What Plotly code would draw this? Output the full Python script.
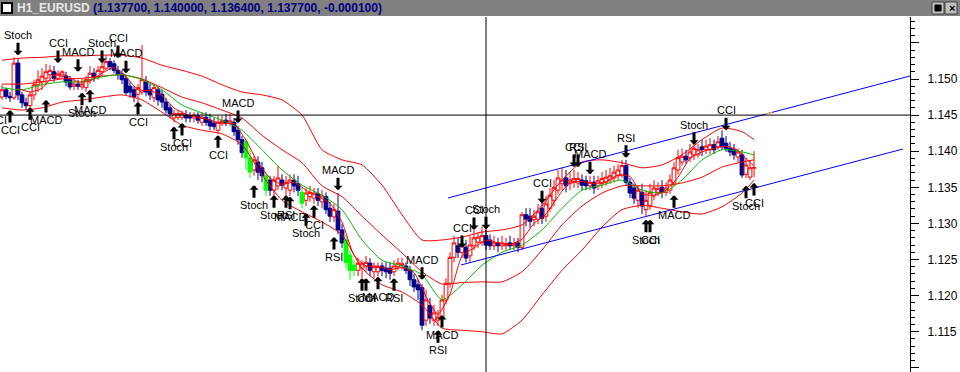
import plotly.graph_objects as go

# ---------------- data (prices in pips, 1 pip = 0.0001) ----------------
opens = [11475,11485,11476,11474,11522,11478,11467,11463,11478,11492,11496,11501,11506,11510,11501,11504,11504,11499,11490,11493,
         11489,11488,11499,11508,11503,11510,11515,11524,11521,11512,11507,11501,11490,11485,11479,11482,11496,11485,11474,11485,
         11479,11468,11460,11446,11447,11447,11450,11449,11446,11449,11440,11447,11443,11439,11429,11440,11443,11439,11440,11429,
         11416,11413,11391,11374,11385,11377,11366,11360,11346,11352,11360,11349,11346,11360,11355,11343,11332,11337,11335,11341,
         11330,11337,11321,11309,11317,11291,11277,11256,11242,11235,11238,11241,11245,11233,11233,11241,11238,11238,11233,11240,
         11242,11241,11235,11222,11215,11211,11166,11186,11166,11166,11169,11194,11217,11253,11269,11260,11267,11255,11269,11274,
         11274,11283,11277,11269,11273,11269,11269,11273,11269,11273,11267,11312,11310,11305,11306,11321,11310,11321,11332,11346,
         11355,11363,11355,11357,11356,11360,11359,11352,11357,11352,11355,11357,11360,11363,11366,11367,11380,11357,11349,11332,
         11343,11319,11325,11338,11343,11350,11343,11346,11356,11374,11385,11393,11391,11395,11395,11406,11402,11402,11409,11406,
         11418,11411,11404,11402,11392,11395,11368,11364,11377]
highs = [11492,11488,11482,11530,11529,11482,11474,11482,11499,11512,11515,11521,11519,11518,11512,11512,11510,11504,11499,11499,
         11501,11504,11518,11515,11518,11524,11533,11529,11526,11518,11512,11506,11496,11490,11493,11547,11504,11493,11493,11490,
         11485,11474,11465,11457,11457,11456,11457,11454,11454,11454,11454,11454,11452,11446,11449,11449,11452,11452,11446,11435,
         11421,11418,11402,11393,11393,11385,11371,11366,11366,11380,11368,11366,11368,11368,11366,11349,11349,11352,11349,11349,
         11346,11343,11330,11327,11342,11299,11284,11263,11249,11252,11249,11255,11252,11246,11246,11246,11246,11246,11249,11252,
         11252,11246,11241,11230,11222,11216,11208,11197,11187,11180,11201,11224,11260,11283,11280,11280,11277,11283,11291,11288,
         11296,11291,11285,11283,11280,11283,11280,11283,11280,11280,11316,11321,11321,11319,11327,11330,11338,11349,11360,11374,
         11377,11374,11371,11374,11371,11368,11366,11366,11366,11366,11371,11374,11377,11380,11382,11388,11388,11363,11355,11352,
         11355,11346,11355,11360,11357,11360,11357,11368,11385,11402,11404,11402,11410,11413,11410,11416,11416,11418,11416,11421,
         11429,11421,11413,11410,11404,11402,11391,11388,11400]
lows = [11471,11472,11468,11471,11471,11460,11457,11457,11471,11482,11485,11493,11499,11496,11499,11500,11490,11485,11485,11485,
        11485,11482,11493,11496,11499,11504,11512,11512,11508,11499,11493,11478,11474,11468,11467,11478,11476,11471,11468,11463,
        11460,11452,11446,11440,11443,11443,11440,11440,11440,11438,11435,11435,11429,11429,11424,11435,11435,11435,11421,11409,
        11391,11374,11363,11366,11360,11357,11338,11338,11338,11346,11346,11338,11338,11343,11338,11321,11324,11330,11327,11324,
        11321,11313,11302,11302,11285,11266,11238,11222,11227,11227,11224,11233,11227,11224,11227,11227,11224,11222,11227,11235,
        11235,11230,11213,11205,11194,11152,11158,11161,11158,11158,11163,11188,11211,11246,11252,11252,11246,11246,11263,11266,
        11269,11263,11263,11263,11260,11263,11263,11263,11263,11260,11263,11296,11294,11296,11299,11299,11302,11316,11324,11341,
        11346,11343,11346,11349,11349,11346,11346,11346,11341,11346,11349,11352,11355,11357,11360,11363,11352,11335,11327,11321,
        11313,11310,11319,11332,11338,11335,11338,11341,11352,11368,11380,11382,11385,11388,11391,11393,11396,11396,11396,11402,
        11402,11399,11393,11388,11385,11363,11363,11360,11364]
closes = [11485,11476,11474,11522,11478,11467,11463,11478,11492,11499,11504,11510,11512,11501,11507,11510,11496,11489,11493,11490,
          11493,11499,11508,11503,11512,11517,11524,11517,11512,11506,11499,11481,11482,11475,11488,11499,11482,11478,11488,11471,
          11468,11457,11452,11452,11452,11452,11446,11446,11450,11443,11447,11440,11435,11434,11440,11442,11439,11442,11427,11416,
          11398,11391,11371,11388,11371,11366,11346,11346,11360,11363,11353,11357,11360,11352,11346,11328,11342,11343,11342,11332,
          11338,11319,11310,11319,11291,11273,11246,11235,11235,11245,11244,11246,11235,11240,11240,11235,11233,11231,11241,11245,
          11244,11235,11222,11212,11208,11159,11194,11169,11176,11170,11194,11217,11253,11273,11260,11270,11252,11270,11280,11281,
          11283,11270,11269,11273,11269,11273,11272,11269,11272,11267,11312,11306,11303,11310,11316,11307,11327,11339,11350,11363,
          11360,11352,11360,11362,11362,11353,11352,11357,11349,11359,11362,11364,11366,11371,11374,11380,11357,11342,11335,11346,
          11324,11332,11343,11349,11348,11343,11349,11360,11377,11391,11393,11388,11399,11404,11402,11402,11407,11409,11402,11413,
          11406,11404,11399,11395,11399,11367,11381,11377,11377]
green_bars = [61, 62, 66, 75, 86, 87, 88]

# indicator lines (bar index, price in pips)
band_bars = [0,5,10,15,20,25,30,35,40,45,50,55,60,65,70,75,80,85,90,95,100,105,110,115,120,125,130,135,140,145,150,155,160,165,170,175,180,185,188]
band_upper = [11526,11529,11530,11532,11532,11533,11533,11529,11519,11512,11504,11492,11482,11478,11471,11450,11402,11388,11381,11353,
              11312,11277,11277,11281,11288,11291,11298,11325,11360,11385,11388,11384,11377,11381,11395,11416,11432,11427,11416]
band_mid = [11493,11493,11496,11500,11501,11504,11506,11500,11488,11475,11467,11457,11446,11422,11402,11384,11352,11337,11310,11284,
            11259,11233,11216,11218,11219,11219,11233,11263,11298,11324,11342,11352,11352,11352,11356,11364,11378,11385,11388]
band_lower = [11460,11457,11460,11468,11471,11475,11478,11471,11454,11436,11429,11424,11409,11367,11332,11316,11302,11284,11238,11215,
              11205,11187,11155,11152,11150,11147,11166,11201,11235,11263,11295,11319,11325,11321,11316,11313,11323,11342,11360]
ma_green = [11488,11485,11492,11496,11496,11503,11506,11499,11485,11464,11453,11443,11429,11402,11374,11353,11339,11319,11277,11249,
            11241,11229,11194,11215,11242,11260,11270,11291,11321,11346,11353,11360,11346,11342,11360,11388,11402,11399,11395]
fast_bars = [4,7,10,13,16,19,22,25,28,31,34,37,40,43,46,49,52,55,58,61,64,67,70,73,76,79,82,85,88,91,94,97,100,103,106,109,
             112,115,118,121,124,127,130,133,136,139,142,145,148,151,154,157,160,163,166,169,172,175,178,181,184,187,188]
fast_red = [11487,11482,11487,11505,11505,11496,11497,11508,11516,11503,11485,11484,11477,11460,11451,11447,11443,11438,11438,11415,
            11384,11363,11354,11357,11346,11337,11328,11302,11256,11241,11241,11236,11239,11232,11199,11174,11202,11255,11266,11277,
            11273,11271,11278,11300,11313,11337,11357,11358,11355,11358,11367,11365,11341,11339,11346,11364,11390,11399,11404,11407,
            11401,11384,11380]

# channel lines (bar index, price)
chan_up_x = [111.5, 227.0]
chan_up_y = [1.13352, 1.15042]
chan_lo_x = [114.75, 225.25]
chan_lo_y = [1.12424, 1.14030]
chan_mark_x = [190.75, 192.5]       # small yellow piece on the upper channel
chan_mark_y = [1.14511, 1.14536]

# crosshair
cross_bar = 121
cross_price = 1.145

# signals: (bar, arrow tip price in pips, direction, label)
signals = [
    (4, 11533, 'down', 'Stoch'), (14, 11522, 'down', 'CCI'), (19, 11510, 'down', 'MACD'), (25, 11522, 'down', 'Stoch'),
    (29, 11529, 'down', 'CCI'), (31, 11508, 'down', 'MACD'), (59, 11439, 'down', 'MACD'), (84, 11346, 'down', 'MACD'),
    (105, 11222, 'down', 'MACD'), (115, 11266, 'down', 'CCI'), (118, 11291, 'down', 'CCI'), (121, 11292, 'down', 'Stoch'),
    (135, 11328, 'down', 'CCI'), (143, 11378, 'down', 'CCI'), (144, 11378, 'down', 'RSI'), (147, 11368, 'down', 'MACD'),
    (156, 11391, 'down', 'RSI'), (173, 11409, 'down', 'Stoch'), (181, 11429, 'down', 'CCI'),
    (2, 11457, 'up', 'CCI'), (7, 11461, 'up', 'CCI'), (11, 11471, 'up', 'MACD'), (20, 11481, 'up', 'Stoch'),
    (22, 11485, 'up', 'MACD'), (34, 11468, 'up', 'CCI'), (43, 11434, 'up', 'Stoch'), (45, 11439, 'up', 'CCI'),
    (54, 11422, 'up', 'CCI'), (63, 11353, 'up', 'Stoch'), (68, 11339, 'up', 'Stoch'), (71, 11339, 'up', 'RSI'),
    (72, 11337, 'up', 'MACD'), (78, 11325, 'up', 'CCI'), (76, 11314, 'up', 'Stoch'), (83, 11281, 'up', 'RSI'),
    (90, 11224, 'up', 'Stoch'), (91, 11224, 'up', 'CCI'), (94, 11226, 'up', 'MACD'), (98, 11224, 'up', 'RSI'),
    (110, 11173, 'up', 'MACD'), (109, 11152, 'up', 'RSI'), (161, 11305, 'up', 'Stoch'), (162, 11305, 'up', 'CCI'),
    (168, 11339, 'up', 'MACD'), (186, 11352, 'up', 'Stoch'), (188, 11356, 'up', 'CCI'),
]
# label of a signal whose bar lies just left of the visible window (price of text centre, pips)
edge_label = ('CCI', 11443)

title_symbol = "H1_EURUSD"
title_values = "(1.137700, 1.140000, 1.136400, 1.137700, -0.000100)"

y_labels = [1.115, 1.120, 1.125, 1.130, 1.135, 1.140, 1.145, 1.150]
y_range = [1.109418, 1.158587]

# ---------------- figure ----------------
P = 1e-4
W, H, ML, MR, MT, MB = 960, 372, 0, 50, 17, 0
PW, PH = W - ML - MR, H - MT - MB

def px_x(px):
    return (px - ML) / PW

def px_y(py):
    return (H - MB - py) / PH

fig = go.Figure()

idx_all = list(range(len(closes)))
norm = [i for i in idx_all if i not in green_bars]
grn = [i for i in idx_all if i in green_bars]

fig.add_trace(go.Candlestick(
    x=norm, open=[opens[i] * P for i in norm], high=[highs[i] * P for i in norm],
    low=[lows[i] * P for i in norm], close=[closes[i] * P for i in norm],
    increasing=dict(line=dict(color='#FF0000', width=1), fillcolor='#FFFFFF'),
    decreasing=dict(line=dict(color='#00008C', width=1), fillcolor='#00008C'),
    whiskerwidth=0, hoverinfo='skip', showlegend=False))
fig.add_trace(go.Candlestick(
    x=grn, open=[opens[i] * P for i in grn], high=[highs[i] * P for i in grn],
    low=[lows[i] * P for i in grn], close=[closes[i] * P for i in grn],
    increasing=dict(line=dict(color='#00FF00', width=1), fillcolor='#00FF00'),
    decreasing=dict(line=dict(color='#00FF00', width=1), fillcolor='#00FF00'),
    whiskerwidth=0, hoverinfo='skip', showlegend=False))

for arr, col in [(band_upper, '#FF0000'), (band_mid, '#FF0000'), (band_lower, '#FF0000'), (ma_green, '#00C000')]:
    fig.add_trace(go.Scatter(x=band_bars, y=[v * P for v in arr], mode='lines',
                             line=dict(color=col, width=1, shape='spline', smoothing=0.6),
                             hoverinfo='skip', showlegend=False))
fig.add_trace(go.Scatter(x=fast_bars, y=[v * P for v in fast_red], mode='lines',
                         line=dict(color='#FF0000', width=1, shape='spline', smoothing=0.5),
                         hoverinfo='skip', showlegend=False))

for xs, ys, col in [(chan_up_x, chan_up_y, '#0000FF'), (chan_lo_x, chan_lo_y, '#0000FF'),
                    (chan_mark_x, chan_mark_y, '#FFD700')]:
    fig.add_trace(go.Scatter(x=xs, y=ys, mode='lines', line=dict(color=col, width=1),
                             hoverinfo='skip', showlegend=False))

shapes = []
shapes.append(dict(type='line', xref='x', yref='paper', x0=cross_bar, x1=cross_bar, y0=0, y1=1,
                   line=dict(color='black', width=1)))
shapes.append(dict(type='line', xref='paper', yref='y', x0=0, x1=1, y0=cross_price, y1=cross_price,
                   line=dict(color='black', width=1)))
shapes.append(dict(type='rect', xref='paper', yref='paper', x0=px_x(0), x1=px_x(960), y0=px_y(16), y1=px_y(0),
                   fillcolor='#808080', line=dict(width=0), layer='above'))
shapes.append(dict(type='rect', xref='paper', yref='paper', x0=px_x(2), x1=px_x(12), y0=px_y(13), y1=px_y(3),
                   fillcolor='#FFFFFF', line=dict(color='#000000', width=2), layer='above'))
for bx in (932, 945):
    shapes.append(dict(type='rect', xref='paper', yref='paper', x0=px_x(bx), x1=px_x(bx + 12), y0=px_y(14), y1=px_y(2),
                       fillcolor='#C0C0C0', line=dict(color='#404040', width=1), layer='above'))
shapes.append(dict(type='rect', xref='paper', yref='paper', x0=px_x(935), x1=px_x(941), y0=px_y(11), y1=px_y(5),
                   fillcolor='#000000', line=dict(color='#000000', width=1), layer='above'))

annotations = []
for b, tip, d, lab in signals:
    annotations.append(dict(x=b, y=tip * P, xref='x', yref='y', text=lab, showarrow=True,
                            arrowhead=1, arrowsize=0.5, arrowwidth=3, arrowcolor='black',
                            ax=0, ay=(-20 if d == 'down' else 20), standoff=0,
                            font=dict(family='Arial, Liberation Sans', size=11, color='black')))
annotations.append(dict(x=px_x(9), y=edge_label[1] * P, xref='paper', yref='y', xanchor='right', yanchor='middle',
                        showarrow=False, text=edge_label[0],
                        font=dict(family='Arial, Liberation Sans', size=11, color='black')))
annotations.append(dict(x=px_x(15), y=px_y(8), xref='paper', yref='paper', xanchor='left', yanchor='middle',
                        showarrow=False,
                        text=("<b><span style='color:#E8E8E8'>" + title_symbol + "</span> "
                              "<span style='color:#000080'>" + title_values + "</span></b>"),
                        font=dict(family='Arial, Liberation Sans', size=12)))
annotations.append(dict(x=px_x(951.5), y=px_y(8), xref='paper', yref='paper', xanchor='center', yanchor='middle',
                        showarrow=False, text='<b>×</b>',
                        font=dict(family='Arial, Liberation Sans', size=11, color='black')))

y_ticktext = ['%.3f' % v for v in y_labels]
fig.update_layout(
    width=W, height=H, margin=dict(l=ML, r=MR, t=MT, b=MB, pad=0),
    paper_bgcolor='white', plot_bgcolor='white', showlegend=False,
    shapes=shapes, annotations=annotations, boxgap=0.05, boxgroupgap=0,
    xaxis=dict(range=[-0.5, 227], visible=False, showgrid=False, rangeslider=dict(visible=False), fixedrange=True),
    yaxis=dict(range=y_range, side='right', showgrid=False, zeroline=False,
               tickmode='array', tickvals=y_labels + [1.110, 1.155], ticktext=y_ticktext + ['', ''],
               ticks='outside', ticklen=8, tickwidth=1, tickcolor='black',
               showline=True, linecolor='black', linewidth=1,
               tickfont=dict(family='Arial, Liberation Sans', size=12, color='black'),
               minor=dict(tickmode='linear', tick0=1.110, dtick=0.001, ticks='outside', ticklen=4,
                          tickcolor='black', showgrid=False),
               ticklabelstandoff=6),
)

fig.write_html("out.html")
